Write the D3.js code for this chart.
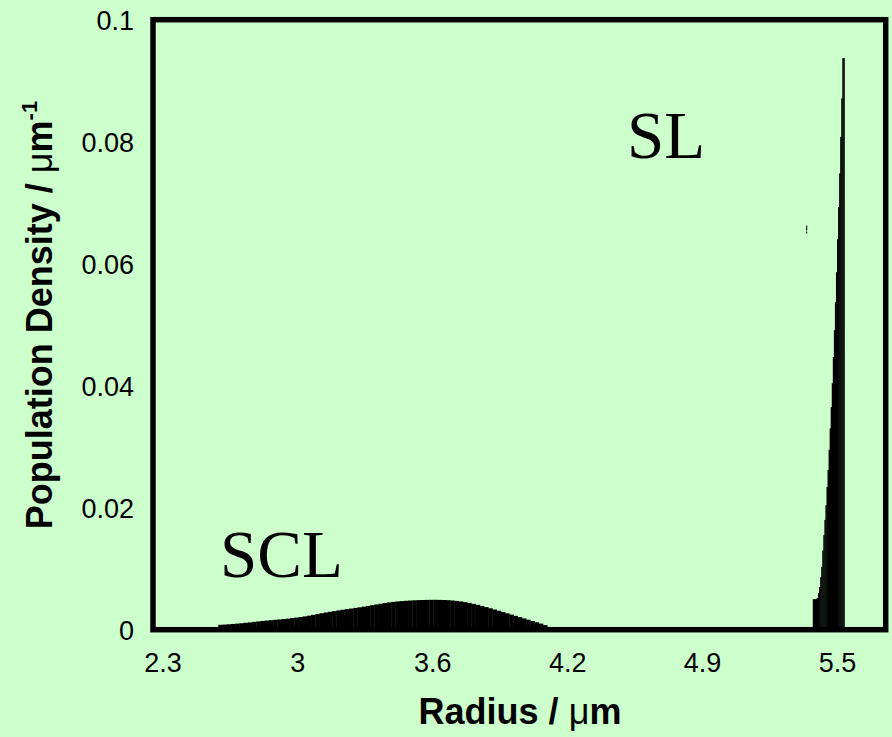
<!DOCTYPE html>
<html>
<head>
<meta charset="utf-8">
<script src="https://cdn.jsdelivr.net/npm/d3@7"></script>
<style>
  body { margin: 0; background: #ccffcc; }
  svg { display: block; }
</style>
</head>
<body>
<script>
// SCL peak: bins of 0.02 um starting at 2.565 um
const sclStart = 2.565
const sclWidth = 0.02
const sclValues = [
  0.00080, 0.00084, 0.00089, 0.00094, 0.00100, 0.00106, 0.00113, 0.00120, 0.00128, 0.00136,
  0.00144, 0.00150, 0.00156, 0.00162, 0.00168, 0.00175, 0.00182, 0.00190, 0.00199, 0.00208,
  0.00218, 0.00230, 0.00243, 0.00256, 0.00270, 0.00283, 0.00294, 0.00305, 0.00316, 0.00327,
  0.00337, 0.00347, 0.00357, 0.00367, 0.00378, 0.00390, 0.00402, 0.00414, 0.00426, 0.00438,
  0.00448, 0.00456, 0.00463, 0.00469, 0.00474, 0.00478, 0.00482, 0.00485, 0.00487, 0.00489,
  0.00490, 0.00490, 0.00489, 0.00487, 0.00484, 0.00479, 0.00472, 0.00463, 0.00452, 0.00439,
  0.00424, 0.00408, 0.00390, 0.00371, 0.00351, 0.00331, 0.00311, 0.00290, 0.00269, 0.00248,
  0.00227, 0.00206, 0.00185, 0.00164, 0.00143, 0.00122, 0.00100, 0.00075, 0.00045
]

// SL peak: bins of 0.005 um starting at 5.385 um
const slStart = 5.385
const slWidth = 0.005
const slValues = [
  0.0050, 0.0050, 0.0050, 0.0051, 0.0052, 0.0060, 0.0070, 0.0086, 0.0103, 0.0130,
  0.0155, 0.0180, 0.0204, 0.0234, 0.0262, 0.0295, 0.0330, 0.0365, 0.0404, 0.0447,
  0.0491, 0.0537, 0.0586, 0.0640, 0.0693, 0.0748, 0.0808, 0.0871, 0.0937, 0.0937
]

// stray point near the SL peak
const strayR = [5.356]
const strayV = [0.0656]

const xTickValues = [2.30, 2.94, 3.58, 4.22, 4.86, 5.50]
const xTickLabels = ['2.3', '3', '3.6', '4.2', '4.9', '5.5']
const yTickValues = [0, 0.02, 0.04, 0.06, 0.08, 0.1]
const yTickLabels = ['0', '0.02', '0.04', '0.06', '0.08', '0.1']

const width = 892
const height = 737
const plot = {left: 153, right: 885.7, top: 19.7, bottom: 629.7}

const svg = d3.select('body').append('svg')
  .attr('width', width)
  .attr('height', height)

svg.append('rect')
  .attr('width', width)
  .attr('height', height)
  .attr('fill', '#ccffcc')

// scales
const x = d3.scaleLinear().domain([2.255, 5.731]).range([plot.left, plot.right])
const y = d3.scaleLinear().domain([0, 0.1]).range([plot.bottom, plot.top])

// bars
const toBins = (start, w, vals) => vals.map((v, i) => ({r0: start + i * w, r1: start + (i + 1) * w, v}))
const bins = toBins(sclStart, sclWidth, sclValues).concat(toBins(slStart, slWidth, slValues))

svg.append('g')
  .selectAll('rect')
  .data(bins)
  .join('rect')
  .attr('x', d => x(d.r0))
  .attr('width', d => x(d.r1) - x(d.r0) + 0.4)
  .attr('y', d => y(d.v))
  .attr('height', d => y(0) - y(d.v))
  .attr('fill', '#000')

svg.append('g')
  .selectAll('line')
  .data(strayR.map((r, i) => ({r, v: strayV[i]})))
  .join('line')
  .attr('x1', d => x(d.r)).attr('x2', d => x(d.r))
  .attr('y1', d => y(d.v) - 4).attr('y2', d => y(d.v) + 4)
  .attr('stroke', '#222')
  .attr('stroke-width', 1.2)
  .attr('stroke-dasharray', '5,1,2')

// frame
svg.append('rect')
  .attr('x', plot.left)
  .attr('y', plot.top)
  .attr('width', plot.right - plot.left)
  .attr('height', plot.bottom - plot.top)
  .attr('fill', 'none')
  .attr('stroke', '#000')
  .attr('stroke-width', 5.5)

// x axis labels
const xAxis = svg.append('g')
  .attr('transform', 'translate(0,' + plot.bottom + ')')
  .call(d3.axisBottom(x).tickValues(xTickValues).tickFormat((d, i) => xTickLabels[i]).tickSize(0).tickPadding(0))
xAxis.select('.domain').remove()
xAxis.selectAll('text')
  .attr('y', 42)
  .attr('dy', null)
  .attr('fill', '#000')
  .style('font-family', 'Liberation Sans, Arial, sans-serif')
  .style('font-size', '27px')

// y axis labels
const yAxis = svg.append('g')
  .attr('transform', 'translate(' + plot.left + ',0)')
  .call(d3.axisLeft(y).tickValues(yTickValues).tickFormat((d, i) => yTickLabels[i]).tickSize(0).tickPadding(0))
yAxis.select('.domain').remove()
yAxis.selectAll('text')
  .attr('x', -19)
  .attr('dy', '0.36em')
  .attr('fill', '#000')
  .style('font-family', 'Liberation Sans, Arial, sans-serif')
  .style('font-size', '27px')

// axis titles
const xTitle = svg.append('text')
  .attr('x', 520)
  .attr('y', 724)
  .attr('text-anchor', 'middle')
  .style('font-family', 'Liberation Sans, Arial, sans-serif')
  .style('font-size', '36px')
  .style('font-weight', 'bold')
xTitle.append('tspan').text('Radius / ')
xTitle.append('tspan').style('font-weight', 'normal').text('\u03bc')
xTitle.append('tspan').text('m')

const yTitle = svg.append('text')
  .attr('transform', 'translate(52,315) rotate(-90)')
  .attr('text-anchor', 'middle')
  .style('font-family', 'Liberation Sans, Arial, sans-serif')
  .style('font-size', '36px')
  .style('font-weight', 'bold')
yTitle.append('tspan').text('Population Density / ')
yTitle.append('tspan').style('font-weight', 'normal').text('\u03bc')
yTitle.append('tspan').text('m')
yTitle.append('tspan').attr('dy', -15).style('font-size', '22px').text('-1')

// peak annotations
svg.append('text')
  .attr('x', 220)
  .attr('y', 577)
  .style('font-family', 'Liberation Serif, Times New Roman, serif')
  .style('font-size', '67px')
  .text('SCL')

svg.append('text')
  .attr('x', 627)
  .attr('y', 158)
  .style('font-family', 'Liberation Serif, Times New Roman, serif')
  .style('font-size', '67px')
  .text('SL')
</script>
</body>
</html>
